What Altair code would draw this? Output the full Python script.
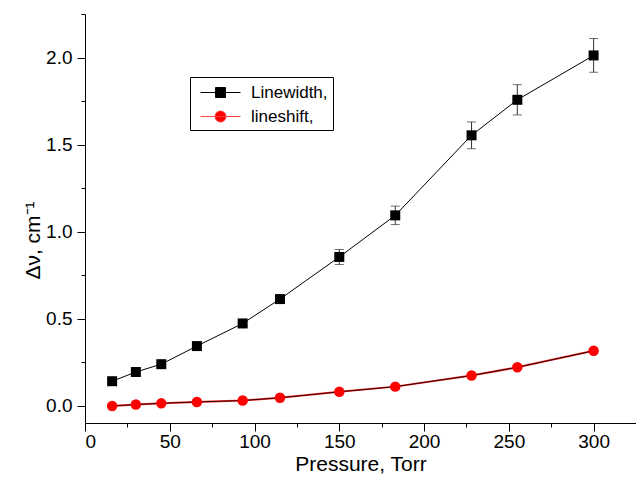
import altair as alt
import pandas as pd

# ---- data ----
pressure = [16, 30, 45, 66, 93, 115, 150, 183, 228, 255, 300]
linewidth = [0.140, 0.193, 0.238, 0.342, 0.472, 0.612, 0.854, 1.093, 1.553, 1.757, 2.012]
linewidth_err = [0.010, 0.010, 0.010, 0.012, 0.015, 0.022, 0.043, 0.053, 0.077, 0.087, 0.097]
lineshift = [-0.002, 0.006, 0.013, 0.021, 0.029, 0.045, 0.079, 0.109, 0.173, 0.220, 0.315]
series_names = ["Linewidth,", "lineshift,"]
x_ticks = list(range(0, 301, 25))
y_ticks = [0.0, 0.25, 0.5, 0.75, 1.0, 1.25, 1.5, 1.75, 2.0, 2.25]

FONT = "Liberation Sans"

df = pd.DataFrame({
    "p": pressure,
    "w": linewidth,
    "lo": [a - b for a, b in zip(linewidth, linewidth_err)],
    "hi": [a + b for a, b in zip(linewidth, linewidth_err)],
    "s": lineshift,
})

xscale = alt.Scale(domain=[0, 325], nice=False, zero=False)
yscale = alt.Scale(domain=[-0.1, 2.25], nice=False, zero=False)

xaxis = alt.Axis(
    values=x_ticks,
    labelExpr="datum.value % 50 == 0 ? datum.label : ''",
    tickSize={"condition": {"test": "datum.value % 50 == 0", "value": 8}, "value": 4},
    title="Pressure, Torr",
)
yaxis = alt.Axis(
    values=y_ticks,
    format=".1f",
    labelExpr="abs(datum.value*2 - round(datum.value*2)) < 0.001 ? datum.label : ''",
    tickSize={"condition": {"test": "abs(datum.value*2 - round(datum.value*2)) < 0.001", "value": 8}, "value": 4},
    title="Δν, cm⁻¹",
    titleY=226, titleX=-52, titleBaseline="middle",
)

base = alt.Chart(df)
X = alt.X("p:Q", scale=xscale, axis=xaxis)

err_rule = base.mark_rule(color="#333333", strokeWidth=1).encode(
    x=X, y=alt.Y("lo:Q", scale=yscale, axis=yaxis), y2="hi:Q")
cap_lo = base.mark_tick(color="#333333", orient="horizontal", size=9, thickness=1).encode(
    x="p:Q", y="lo:Q")
cap_hi = base.mark_tick(color="#333333", orient="horizontal", size=9, thickness=1).encode(
    x="p:Q", y="hi:Q")

w_line = base.mark_line(color="black", strokeWidth=1).encode(x="p:Q", y="w:Q")
w_pts = base.mark_square(color="black", opacity=1, size=100).encode(x="p:Q", y="w:Q")

s_line_red = base.mark_line(color="#ff3030", strokeWidth=2).encode(x="p:Q", y="s:Q")
s_line_dark = base.mark_line(color="#300000", strokeWidth=1).encode(x="p:Q", y="s:Q")
s_pts = base.mark_circle(color="#ff0000", opacity=1, size=110).encode(x="p:Q", y="s:Q")

# legend (symbols: a line with the marker in its middle)
sq_path = "M-0.5,0H3.5M1,-0.5H2V0.5H1Z"
ci_path = "M-0.5,0H3.5M2.05,0A0.55,0.55 0 1,1 0.95,0A0.55,0.55 0 1,1 2.05,0Z"
leg = alt.Legend(
    title=None, orient="none", legendX=105, legendY=63,
    strokeColor="black", fillColor="white", padding=5,
    symbolSize=400, symbolStrokeWidth=1, symbolOpacity=1,
    labelFont=FONT, labelFontSize=17, labelColor="black", labelOffset=35,
    rowPadding=5, cornerRadius=0,
)
legend_df = pd.DataFrame({"series": series_names})
legend_layer = alt.Chart(legend_df).transform_filter("datum.series == 'none'").mark_point(
    filled=True).encode(
    shape=alt.Shape("series:N", scale=alt.Scale(domain=series_names, range=[sq_path, ci_path]), legend=leg),
    fill=alt.Fill("series:N", scale=alt.Scale(domain=series_names, range=["black", "#ff0000"]), legend=leg),
    stroke=alt.Stroke("series:N", scale=alt.Scale(domain=series_names, range=["black", "#ff4040"]), legend=leg),
)

chart = alt.layer(
    err_rule, cap_lo, cap_hi, w_line, w_pts, s_line_red, s_line_dark, s_pts, legend_layer
).properties(
    width=551, height=409,
    padding={"left": 85, "top": 14, "right": 0, "bottom": 59},
    autosize=alt.AutoSizeParams(type="none"),
).configure_view(stroke=None).configure_axis(
    grid=False, domainColor="black", domainWidth=1, tickColor="black", tickWidth=1,
    labelFont=FONT, labelFontSize=19, labelColor="black",
    titleFont=FONT, titleFontSize=21, titleFontWeight="normal", titleColor="black",
).configure_axisX(titlePadding=2, labelPadding=1).configure_axisY(labelPadding=5)

chart.save("out.html", embed_options={"renderer": "svg", "actions": False})
